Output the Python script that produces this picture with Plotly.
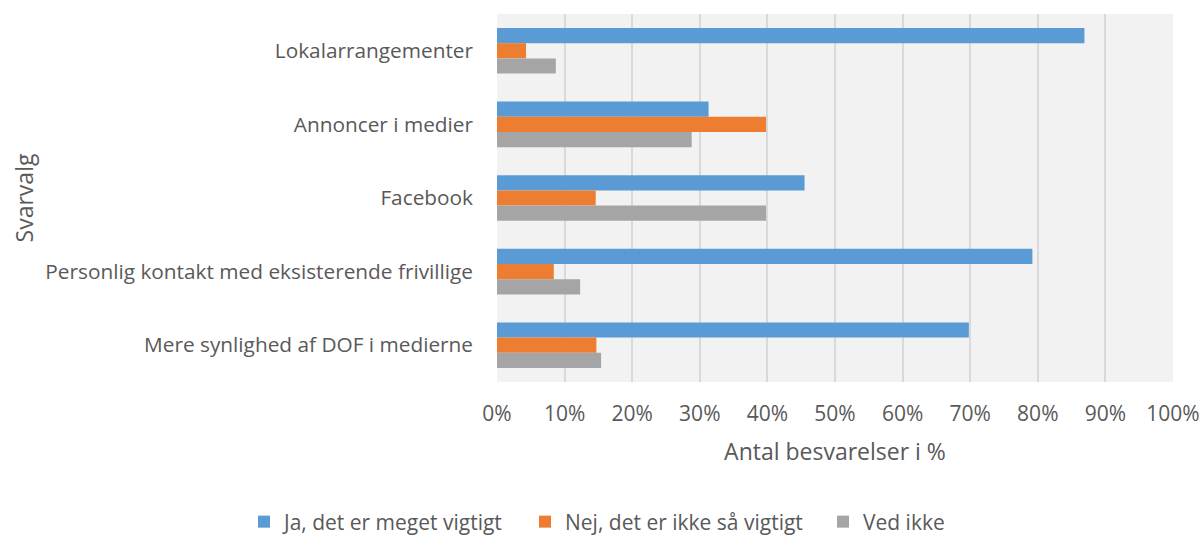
import plotly.graph_objects as go

categories = ["Lokalarrangementer", "Annoncer i medier", "Facebook",
              "Personlig kontakt med eksisterende frivillige",
              "Mere synlighed af DOF i medierne"]
series_names = ["Ja, det er meget vigtigt", "Nej, det er ikke så vigtigt", "Ved ikke"]
ja = [86.9, 31.3, 45.5, 79.2, 69.8]
nej = [4.3, 39.8, 14.6, 8.4, 14.7]
ved_ikke = [8.7, 28.8, 39.8, 12.3, 15.4]
colors = ["#5B9BD5", "#ED7D31", "#A5A5A5"]

W, H = 1202, 536
legend_ids = ["legend", "legend2", "legend3"]
legend_x = [244, 525, 823]

fig = go.Figure()
for name, vals, c, lid in zip(series_names, [ja, nej, ved_ikke], colors, legend_ids):
    fig.add_trace(go.Bar(y=categories, x=[v / 100 for v in vals], name=name,
                         orientation="h", legend=lid, showlegend=True,
                         marker=dict(color=c, line=dict(width=0))))

font = "'Open Sans', sans-serif"
legend_style = dict(orientation="h", xref="container", yref="container",
                    xanchor="left", y=1 - 522 / H, yanchor="middle",
                    font=dict(size=21), itemwidth=30, bgcolor="rgba(0,0,0,0)")
fig.update_layout(
    width=W, height=H, showlegend=True,
    margin=dict(l=497, r=W - 1173, t=14, b=H - 382),
    paper_bgcolor="white", plot_bgcolor="#F2F2F2",
    barmode="group", bargap=0.38, bargroupgap=0,
    font=dict(family=font, size=21, color="#595959"),
    xaxis=dict(range=[0, 1], dtick=0.1, tickformat=".0%", showgrid=True,
               gridcolor="#D9D9D9", gridwidth=2, zeroline=False, automargin=False,
               title=dict(text="Antal besvarelser i %", font=dict(size=23), standoff=17),
               ticks="", ticklabelstandoff=17, tickfont=dict(size=21)),
    yaxis=dict(autorange="reversed", showgrid=False, ticks="", automargin=False,
               ticklabelstandoff=23,
               title=dict(text="Svarvalg", font=dict(size=23), standoff=5),
               tickfont=dict(size=20.8)),
)
for lid, lx in zip(legend_ids, legend_x):
    fig.update_layout({lid: dict(legend_style, x=lx / W)})

fig.write_html("out.html", config={"displayModeBar": False},
               post_script="document.body.style.margin='0';document.body.style.overflow='hidden';")
